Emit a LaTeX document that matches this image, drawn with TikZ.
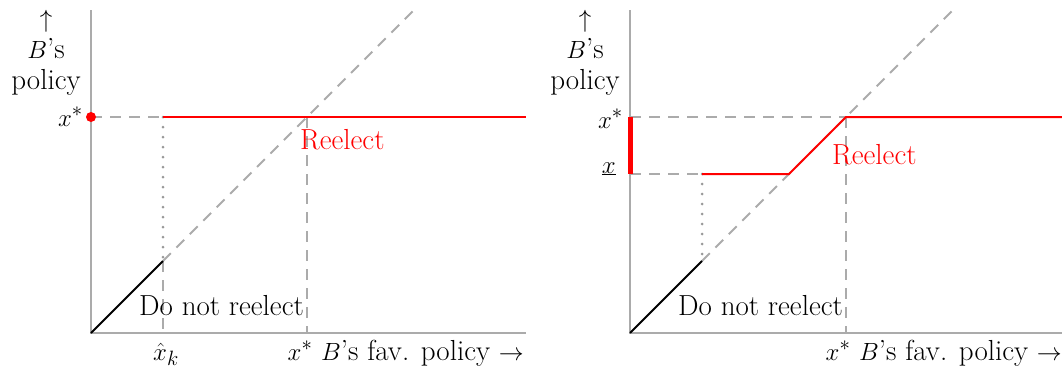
\documentclass[tikz,border=0pt]{standalone}
\begin{document}
\begin{tikzpicture}[x=1pt,y=-1pt,
  every node/.style={font=\fontsize{29}{30}\selectfont, inner sep=0pt},
  axis/.style={draw=black!33, line width=2pt},
  guide/.style={draw=black!33, line width=2pt, dash pattern=on 11pt off 8pt},
  dotguide/.style={draw=black!40, line width=3pt, dash pattern=on 0pt off 10pt, line cap=round},
  redline/.style={draw=red, line width=2pt},
  blackline/.style={draw=black, line width=2pt},
  ylabel/.style={align=center, anchor=south},
  redlbl/.style={text=red}]
\useasboundingbox (0,0) rectangle (1062,370);
% ---------- left panel ----------
\coordinate (O1) at (91,333);
\coordinate (Y1) at (91,10);
\coordinate (X1) at (526,333);
\coordinate (S1) at (91,117);
\coordinate (K1) at (163,117);
\coordinate (KD1) at (163,261);
\coordinate (KB1) at (163,333);
\coordinate (D1) at (414,10);
\coordinate (I1) at (307,117);
\coordinate (IB1) at (307,333);
\coordinate (R1) at (526,117);
\draw[axis] (Y1) -- (O1) -- (X1);
\draw[guide] (S1) -- (K1);
\draw[guide] (KD1) -- (D1);
\draw[guide] (KD1) -- (KB1);
\draw[guide] (I1) -- (IB1);
\draw[dotguide] (K1) -- (KD1);
\draw[redline] (K1) -- (R1);
\draw[blackline] (O1) -- (KD1);
\fill[red] (S1) circle (5pt);
\node[ylabel] (yl1) at (46,96) {$\uparrow$\\[1pt]$B$'s\\[1pt]policy};
\node[anchor=base east] (xs1) at (83,126) {$x^*$};
\node[anchor=base] (xk1) at (166,360) {$\hat{x}_k$};
\node[anchor=base east] (fav1) at (524,360) {$x^*$ $B$'s fav. policy $\rightarrow$};
\node[anchor=base west, redlbl] (re1) at (300,149) {Reelect};
\node[anchor=base west] (dnr1) at (139,315) {Do not reelect};
% ---------- right panel ----------
\coordinate (O2) at (630,333);
\coordinate (Y2) at (630,10);
\coordinate (X2) at (1062,333);
\coordinate (S2) at (630,117);
\coordinate (L2) at (630,174);
\coordinate (K2) at (702,174);
\coordinate (KD2) at (702,261);
\coordinate (M2) at (789,174);
\coordinate (D2) at (953,10);
\coordinate (I2) at (846,117);
\coordinate (IB2) at (846,333);
\coordinate (R2) at (1062,117);
\draw[axis] (Y2) -- (O2) -- (X2);
\draw[guide] (S2) -- (I2);
\draw[guide] (L2) -- (K2);
\draw[guide] (KD2) -- (D2);
\draw[guide] (I2) -- (IB2);
\draw[dotguide] (K2) -- (KD2);
\draw[redline] (K2) -- (M2) -- (I2) -- (R2);
\draw[blackline] (O2) -- (KD2);
\draw[red, line width=5pt] (S2) -- (L2);
\node[ylabel] (yl2) at (585,96) {$\uparrow$\\[1pt]$B$'s\\[1pt]policy};
\node[anchor=base east] (xs2) at (623,128) {$x^*$};
\node[anchor=base east] (xl2) at (616,173) {$\underline{x}$};
\node[anchor=base east] (fav2) at (1062,360) {$x^*$ $B$'s fav. policy $\rightarrow$};
\node[anchor=base west, redlbl] (re2) at (832,164) {Reelect};
\node[anchor=base west] (dnr2) at (678,315) {Do not reelect};
\end{tikzpicture}
\end{document}
